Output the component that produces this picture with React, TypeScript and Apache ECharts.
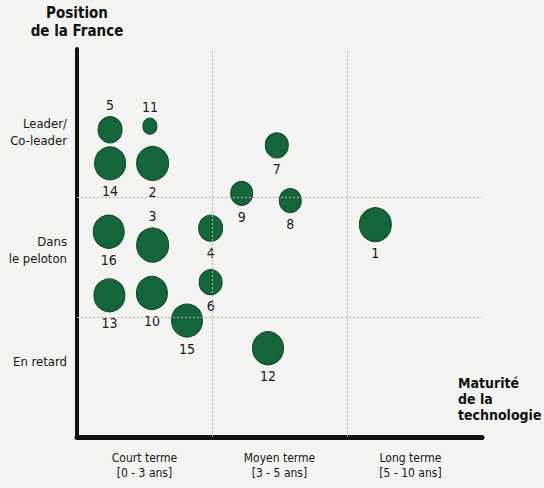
import React, { useEffect, useRef } from "react";
import * as echarts from "echarts";

// Technology ids, maturity (0-3 scale: court / moyen / long terme) and French position (0-3 scale)
const ids = ["1", "2", "3", "4", "5", "6", "7", "8", "9", "10", "11", "12", "13", "14", "15", "16"];
const maturity = [2.21, 0.56, 0.56, 0.99, 0.245, 0.99, 1.48, 1.58, 1.22, 0.555, 0.54, 1.415, 0.24, 0.245, 0.815, 0.235];
const position = [1.77, 2.28, 1.6, 1.74, 2.56, 1.29, 2.43, 1.97, 2.03, 1.2, 2.59, 0.74, 1.18, 2.28, 0.97, 1.71];
const sizes = [32, 32, 32, 24, 24, 23, 23, 22, 22, 31, 14, 31, 31, 31, 31, 31];
const labelAbove = ["5", "11", "3"];

const xTickValues = [0.5, 1.5, 2.47];
const xTickLabels = ["Court terme\n[0 - 3 ans]", "Moyen terme\n[3 - 5 ans]", "Long terme\n[5 - 10 ans]"];
const yTickValues = [0.625, 1.56, 2.54];
const yTickLabels = ["En retard", "Dans\nle peloton", "Leader/\nCo-leader"];
const xDividers = [1, 2];
const yDividers = [1, 2];

const FONT = "'DejaVu Sans Condensed', 'Liberation Sans Narrow', 'Roboto', sans-serif";

function pick(values: number[], labels: string[], v: number) {
  const i = values.findIndex((t) => Math.abs(t - v) < 1e-6);
  return i >= 0 ? labels[i] : "";
}

export default function App() {
  const ref = useRef<HTMLDivElement>(null);
  useEffect(() => {
    if (!ref.current) return;
    const chart = echarts.init(ref.current, null, { renderer: "svg" });
    const data = ids.map((id, i) => ({
      value: [maturity[i], position[i]],
      name: id,
      symbolSize: [sizes[i], sizes[i] + 2],
      label: { position: labelAbove.includes(id) ? "top" : "bottom" },
    }));
    chart.setOption({
      animation: false,
      backgroundColor: "#f3f4f1",
      grid: { left: 77, right: 62, top: 49, bottom: 51, outerBoundsMode: "none" },
      xAxis: {
        type: "value",
        min: 0,
        max: 3,
        name: "Maturité\nde la\ntechnologie",
        nameLocation: "end",
        nameGap: -24,
        nameTextStyle: {
          fontFamily: FONT,
          fontSize: 14,
          fontWeight: "bold",
          lineHeight: 16,
          color: "#111",
          align: "left",
          verticalAlign: "bottom",
          padding: [0, 0, 14, 0],
        },
        axisLine: { show: true, lineStyle: { color: "#111", width: 5 } },
        axisTick: { show: false },
        splitLine: { show: false },
        axisLabel: {
          customValues: xTickValues,
          formatter: (v: number) => pick(xTickValues, xTickLabels, v),
          fontFamily: FONT,
          fontSize: 12,
          lineHeight: 15,
          color: "#161616",
          margin: 13,
        },
      },
      yAxis: {
        type: "value",
        min: 0,
        max: 3.233,
        name: "Position\nde la France",
        nameLocation: "end",
        nameGap: 9,
        nameTextStyle: {
          fontFamily: FONT,
          fontSize: 15,
          fontWeight: "bold",
          lineHeight: 18,
          color: "#111",
          align: "center",
        },
        axisLine: { show: true, lineStyle: { color: "#111", width: 4 } },
        axisTick: { show: false },
        splitLine: { show: false },
        axisLabel: {
          customValues: yTickValues,
          formatter: (v: number) => pick(yTickValues, yTickLabels, v),
          fontFamily: FONT,
          fontSize: 13,
          lineHeight: 17,
          color: "#161616",
          margin: 10,
          align: "right",
        },
      },
      series: [
        {
          type: "scatter",
          data,
          itemStyle: { color: "#14653a", borderColor: "#0b4526", borderWidth: 1, opacity: 1 },
          label: {
            show: true,
            formatter: (p: any) => p.name,
            fontFamily: FONT,
            fontSize: 14,
            color: "#1a1a1a",
            distance: 4,
          },
          markLine: {
            silent: true,
            symbol: "none",
            label: { show: false },
            lineStyle: { color: "#b0b0b0", width: 1, type: [2, 2] },
            data: [
              ...xDividers.map((x) => ({ xAxis: x })),
              ...yDividers.map((y) => ({ yAxis: y })),
            ],
          },
          z: 3,
        },
      ],
    });
    return () => chart.dispose();
  }, []);
  return <div ref={ref} style={{ position: "fixed", left: 0, top: 0, width: 544, height: 488 }} />;
}
